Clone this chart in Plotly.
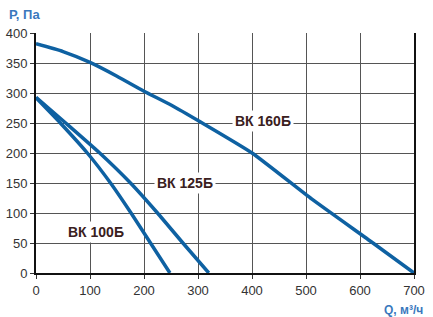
import plotly.graph_objects as go

# Data (Q in m3/h, P in Pa)
q_160 = [0, 50, 100, 150, 200, 250, 304, 400, 511, 624, 700]
p_160 = [382, 369, 351, 328, 303, 280, 252, 200, 123, 50, 0]
q_125 = [0, 55, 118, 175, 225, 272, 320]
p_125 = [293, 250, 200, 150, 100, 50, 0]
q_100 = [0, 45, 95, 138, 176, 212, 248]
p_100 = [292, 250, 200, 150, 100, 50, 0]

labels = ["ВК 160Б", "ВК 125Б", "ВК 100Б"]
label_q = [420, 276, 112]
label_p = [253, 150, 68]

x_ticks = [0, 100, 200, 300, 400, 500, 600, 700]
y_ticks = [0, 50, 100, 150, 200, 250, 300, 350, 400]

line_color = "#0E61A2"
title_color = "#3A78BD"
text_color = "#3a2020"
FONT = "Liberation Sans, Arial"

fig = go.Figure()
for q, p in [(q_160, p_160), (q_125, p_125), (q_100, p_100)]:
    fig.add_trace(go.Scatter(x=q, y=p, mode="lines",
                             line=dict(color=line_color, width=3.5, shape="spline", smoothing=0.5),
                             showlegend=False, hoverinfo="skip"))

for t, x, y in zip(labels, label_q, label_p):
    fig.add_annotation(x=x, y=y, text=t, showarrow=False, bgcolor="white",
                       font=dict(family=FONT, size=14, color=text_color, weight="bold"),
                       borderpad=2)

fig.add_annotation(x=0, y=1, xref="paper", yref="paper", xshift=-29, yshift=28, text="<b>Р, Па</b>",
                   showarrow=False, xanchor="left", yanchor="top",
                   font=dict(family=FONT, size=13, color=title_color))
fig.add_annotation(x=1, y=0, xref="paper", yref="paper", xshift=11, yshift=-28, text="<b>Q, м³/ч</b>",
                   showarrow=False, xanchor="right", yanchor="top",
                   font=dict(family=FONT, size=12, color=title_color))

fig.update_layout(
    width=433, height=317,
    margin=dict(l=36, r=19, t=33, b=44),
    plot_bgcolor="white", paper_bgcolor="white",
    font=dict(family=FONT, size=13, color="#333333"),
    xaxis=dict(range=[0, 700], tickvals=x_ticks, showgrid=True, gridcolor="#555555", gridwidth=1,
               showline=True, linecolor="#111111", linewidth=2, ticks="outside", ticklen=4,
               tickcolor="#333333", zeroline=False, fixedrange=True, automargin=False,
               tickfont=dict(size=13, color="#333333")),
    yaxis=dict(range=[0, 400], tickvals=y_ticks, showgrid=True, gridcolor="#555555", gridwidth=1,
               showline=True, linecolor="#111111", linewidth=2, mirror=True, ticks="outside", ticklen=4,
               tickcolor="#333333", zeroline=False, fixedrange=True, automargin=False,
               tickfont=dict(size=13, color="#333333")),
)

fig.write_html("out.html")
